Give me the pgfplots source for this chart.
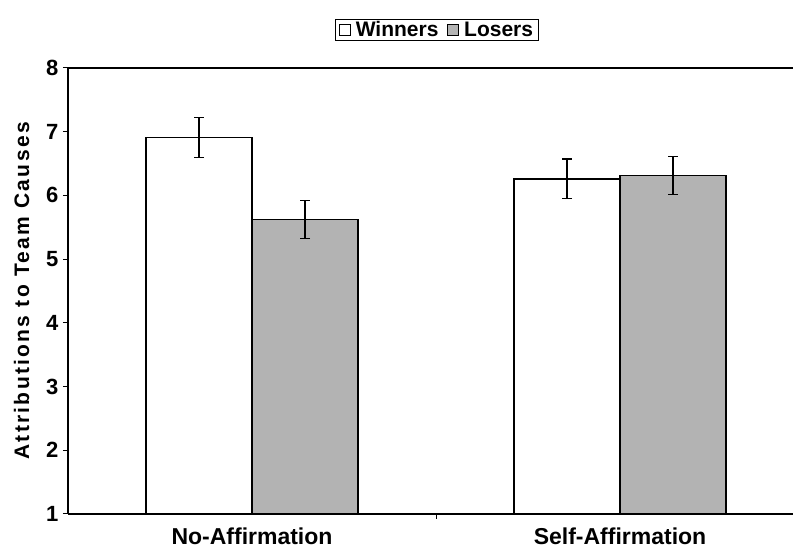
\documentclass[border=0pt]{standalone}
\usepackage{pgfplots}
\pgfplotsset{compat=1.18}
\usepackage{fontspec}
\setmainfont{Liberation Sans}
\definecolor{losergray}{RGB}{179,179,179}

\begin{document}
\begin{tikzpicture}
\begin{axis}[
  scale only axis,
  width=725pt, height=446pt,
  ybar=0pt,
  bar width=0.288,
  xmin=-0.5, xmax=1.47,
  ymin=1, ymax=8,
  axis y line*=left, axis x line*=box,
  axis line style={line width=1.3pt},
  tick align=outside,
  xtick pos=bottom, ytick pos=left,
  xtick={0,1},
  xticklabels={No-Affirmation, Self-Affirmation},
  major x tick style={draw=none},
  extra x ticks={0.5},
  extra x tick labels={},
  extra x tick style={major x tick style={draw=black, line width=1pt}, major tick length=5pt},
  ytick={1,2,3,4,5,6,7,8},
  major tick length=5pt,
  y tick style={line width=1pt, black},
  /pgf/number format/assume math mode=true,
  yticklabel style={font=\bfseries\fontsize{22}{24}\selectfont, xshift=-1pt},
  xticklabel style={font=\bfseries\fontsize{23}{25}\selectfont, yshift=-5pt},
  ylabel={Attributions to Team Causes},
  ylabel style={font=\bfseries\fontsize{21}{23}\selectfont\addfontfeature{LetterSpace=11}, yshift=10pt},
  legend style={at={(0.509,1)}, anchor=south, yshift=27pt, legend columns=2,
    draw=black, line width=1pt, font=\bfseries\fontsize{21}{23}\selectfont,
    inner xsep=3pt, inner ysep=0pt,
    /tikz/every odd column/.append style={column sep=3pt},
    /tikz/every even column/.append style={column sep=7pt}},
  legend image code/.code={\draw[#1, line width=0.8pt] (0pt,-5.5pt) rectangle (11pt,5.5pt);},
  legend cell align=left,
]
\addplot[fill=white, draw=black, line width=1.3pt,
  error bars/.cd, y dir=both, y explicit,
  error bar style={line width=1.3pt, black},
  error mark options={rotate=90, mark size=5pt, line width=1.3pt, black}]
  coordinates {(0,6.91) +- (0,0.31) (1,6.26) +- (0,0.31)};
\addplot[fill=losergray, draw=black, line width=1.3pt,
  error bars/.cd, y dir=both, y explicit,
  error bar style={line width=1.3pt, black},
  error mark options={rotate=90, mark size=5pt, line width=1.3pt, black}]
  coordinates {(0,5.62) +- (0,0.30) (1,6.31) +- (0,0.30)};
\legend{Winners, Losers}
\end{axis}
\pgfresetboundingbox
\path ([shift={(-68pt,-36pt)}]current axis.south west) rectangle ([shift={(0pt,68pt)}]current axis.north east);
\end{tikzpicture}
\end{document}
